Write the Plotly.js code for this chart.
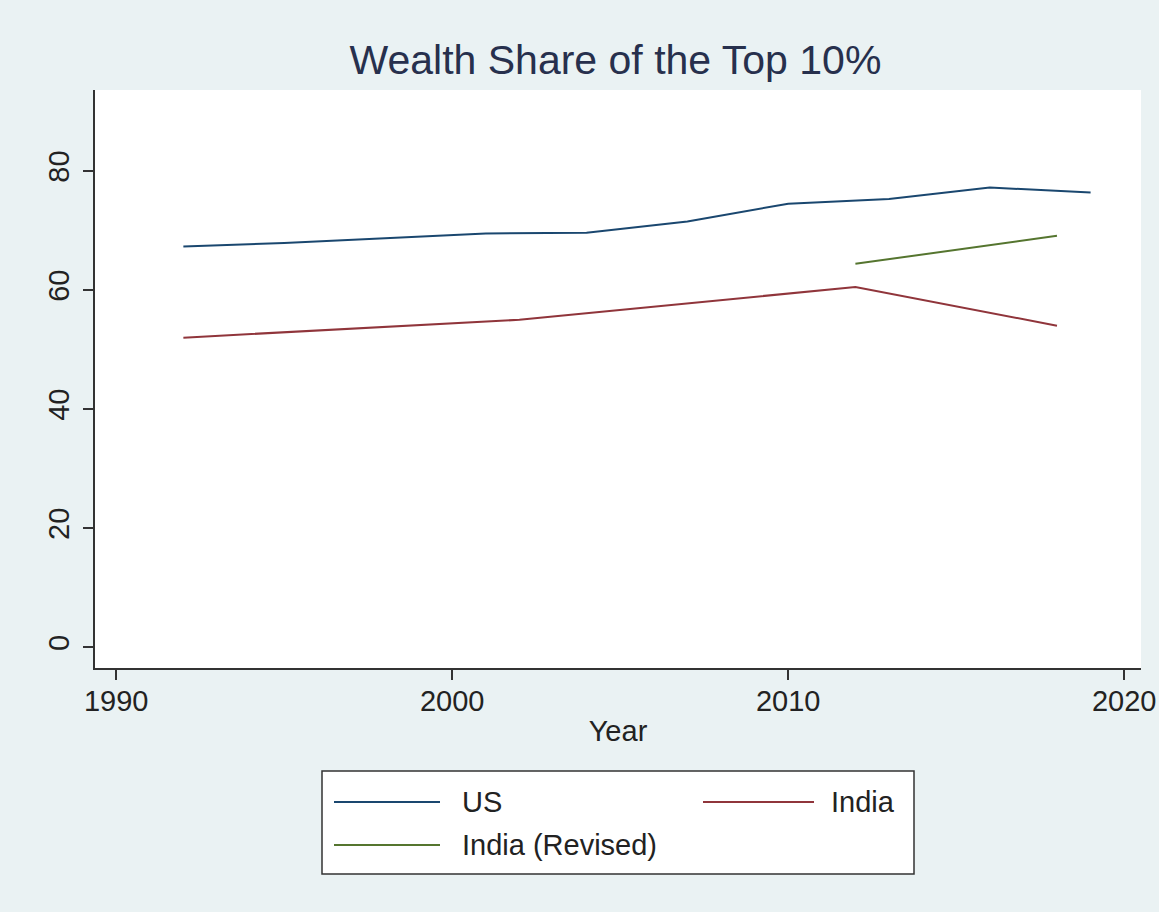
<!DOCTYPE html>
<html>
<head>
<meta charset="utf-8">
<script src="https://cdn.plot.ly/plotly-3.0.1.min.js"></script>
<style>html,body{margin:0;padding:0;background:#eaf2f3;}#chart{width:1159px;height:912px;}</style>
</head>
<body>
<div id="chart"></div>
<script>
const titleText = "Wealth Share of the Top 10%";
const seriesNames = ["US", "India", "India (Revised)"];
const usYears = [1992, 1995, 1998, 2001, 2004, 2007, 2010, 2013, 2016, 2019];
const usValues = [67.3, 67.9, 68.7, 69.5, 69.6, 71.5, 74.5, 75.3, 77.2, 76.4];
const indiaYears = [1992, 2002, 2012, 2018];
const indiaValues = [52.0, 55.0, 60.5, 54.0];
const indiaRevYears = [2012, 2018];
const indiaRevValues = [64.4, 69.1];
const xTicks = [1990, 2000, 2010, 2020];
const yTicks = [0, 20, 40, 60, 80];
const colors = ["#1a476f", "#90353b", "#55752f"];

const font = "Liberation Sans, Arial, sans-serif";
const M = {l: 95, r: 18, t: 90, b: 244};
const W = 1159, H = 912;
const pw = W - M.l - M.r, ph = H - M.t - M.b;
const px = v => (v - M.l) / pw;
const py = v => (H - M.b - v) / ph;

const traces = [
  {x: usYears, y: usValues, name: seriesNames[0], mode: "lines", line: {color: colors[0], width: 2}},
  {x: indiaYears, y: indiaValues, name: seriesNames[1], mode: "lines", line: {color: colors[1], width: 2}},
  {x: indiaRevYears, y: indiaRevValues, name: seriesNames[2], mode: "lines", line: {color: colors[2], width: 2}}
];

// Custom legend (box, sample lines, labels) placed below the plot
const legendSlots = [
  {lx0: 334, lx1: 440, ly: 802, tx: 460},
  {lx0: 703, lx1: 814, ly: 802, tx: 829},
  {lx0: 334, lx1: 440, ly: 845, tx: 460}
];
const shapes = [{
  type: "rect", xref: "paper", yref: "paper",
  x0: px(322), x1: px(914), y0: py(874), y1: py(771),
  fillcolor: "#ffffff", line: {color: "#333333", width: 1.5}
}];
const annotations = [];
seriesNames.forEach((name, i) => {
  const s = legendSlots[i];
  shapes.push({type: "line", xref: "paper", yref: "paper",
    x0: px(s.lx0), x1: px(s.lx1), y0: py(s.ly), y1: py(s.ly),
    line: {color: colors[i], width: 2}});
  annotations.push({text: name, xref: "paper", yref: "paper", x: px(s.tx), y: py(s.ly),
    xanchor: "left", yanchor: "middle", showarrow: false,
    font: {family: font, size: 29, color: "#222222"}});
});

const layout = {
  width: W, height: H,
  paper_bgcolor: "#eaf2f3", plot_bgcolor: "#ffffff",
  margin: M,
  font: {family: font, color: "#222222", size: 29},
  title: {text: titleText, font: {family: font, size: 41, color: "#27304d"}, x: 0.531, xanchor: "center", y: 0.935, yanchor: "middle"},
  xaxis: {
    range: [1989.37, 2020.5], tickvals: xTicks, ticktext: xTicks.map(String),
    ticks: "outside", ticklen: 10, tickwidth: 1.5, tickcolor: "#333",
    showline: true, linecolor: "#333", linewidth: 2, showgrid: false, zeroline: false,
    tickfont: {size: 29, color: "#222"}, automargin: false, ticklabelstandoff: -4,
    title: {text: "Year", font: {size: 29, color: "#222"}, standoff: 5}
  },
  yaxis: {
    range: [-3.5, 93.6], tickvals: yTicks, ticktext: yTicks.map(String),
    ticks: "outside", ticklen: 10, tickwidth: 1.5, tickcolor: "#333", tickangle: -90,
    showline: true, linecolor: "#333", linewidth: 2, showgrid: false, zeroline: false,
    tickfont: {size: 29, color: "#222"}, automargin: false, ticklabelstandoff: 2
  },
  showlegend: false,
  shapes: shapes,
  annotations: annotations
};
Plotly.newPlot("chart", traces, layout, {displayModeBar: false, staticPlot: true});
</script>
</body>
</html>
